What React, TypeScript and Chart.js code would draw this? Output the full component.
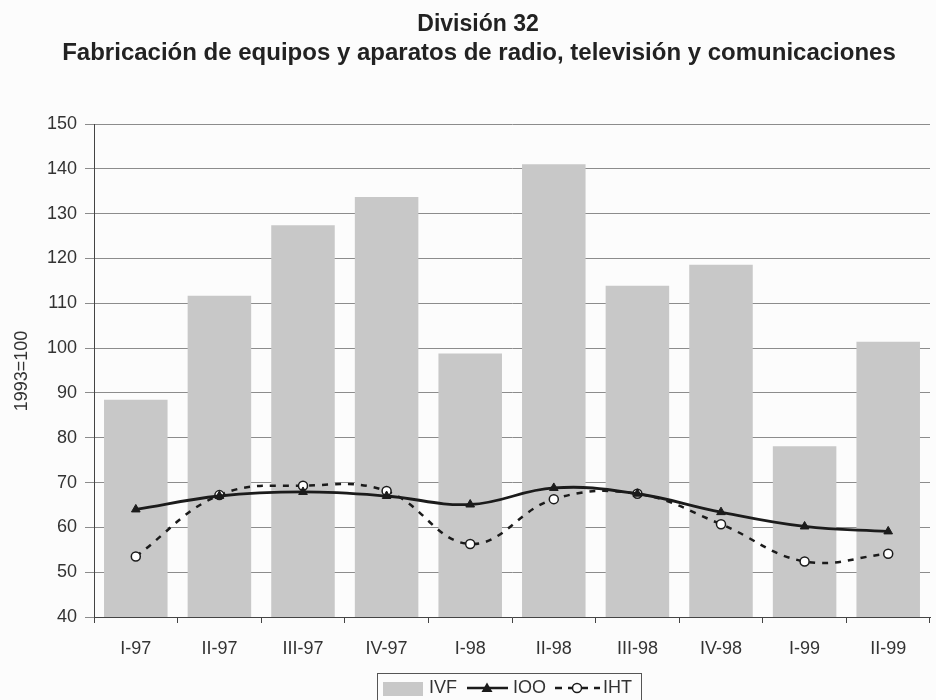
import React, { useEffect, useRef } from 'react';
import { Chart, registerables } from 'chart.js';

Chart.register(...registerables);

const categories = ['I-97', 'II-97', 'III-97', 'IV-97', 'I-98', 'II-98', 'III-98', 'IV-98', 'I-99', 'II-99'];
const ivfValues = [88.5, 111.7, 127.4, 133.7, 98.8, 141.0, 113.9, 118.6, 78.1, 101.4];
const iooValues = [64.0, 67.0, 67.9, 67.0, 65.1, 68.8, 67.5, 63.4, 60.2, 59.1];
const ihtValues = [53.5, 67.2, 69.3, 68.1, 56.3, 66.3, 67.5, 60.7, 52.4, 54.1];
const seriesLabels = ['IVF', 'IOO', 'IHT'];
const yMin = 40;
const yMax = 150;
const yStep = 10;
const titleLines = ['División 32', 'Fabricación de equipos y aparatos de radio, televisión y comunicaciones'];
const yAxisTitle = '1993=100';

const FONT = '"Liberation Sans", Arial, Helvetica, sans-serif';
const BAR_COLOR = '#c8c8c8';
const INK = '#1b1b1b';

const decorPlugin = {
  id: 'decor',
  beforeDraw(chart: any) {
    const { ctx, width, height } = chart;
    ctx.save();
    ctx.fillStyle = '#fcfcfc';
    ctx.fillRect(0, 0, width, height);
    ctx.restore();
  },
  afterDraw(chart: any) {
    const { ctx } = chart;
    ctx.save();
    // Titles
    ctx.fillStyle = '#222';
    ctx.textAlign = 'center';
    ctx.textBaseline = 'middle';
    ctx.font = `bold 23px ${FONT}`;
    ctx.fillText(titleLines[0], 478, 25);
    ctx.font = `bold 24px ${FONT}`;
    ctx.fillText(titleLines[1], 479, 53);

    // Y axis title
    ctx.save();
    ctx.translate(22, 371);
    ctx.rotate(-Math.PI / 2);
    ctx.font = `18px ${FONT}`;
    ctx.fillStyle = '#333';
    ctx.fillText(yAxisTitle, 0, 0);
    ctx.restore();

    // Legend
    const ly = 688;
    ctx.strokeStyle = '#555';
    ctx.lineWidth = 1;
    ctx.strokeRect(377.5, 673.5, 264, 30);
    ctx.font = `18px ${FONT}`;
    ctx.textAlign = 'left';
    ctx.textBaseline = 'middle';
    // IVF swatch
    ctx.fillStyle = BAR_COLOR;
    ctx.fillRect(383, 682, 40, 14);
    ctx.fillStyle = '#333';
    ctx.fillText(seriesLabels[0], 429, ly);
    // IOO
    ctx.strokeStyle = INK;
    ctx.lineWidth = 2.5;
    ctx.beginPath();
    ctx.moveTo(467, ly);
    ctx.lineTo(508, ly);
    ctx.stroke();
    ctx.fillStyle = INK;
    ctx.beginPath();
    ctx.moveTo(487, ly - 5.5);
    ctx.lineTo(492.5, ly + 4);
    ctx.lineTo(481.5, ly + 4);
    ctx.closePath();
    ctx.fill();
    ctx.fillStyle = '#333';
    ctx.fillText(seriesLabels[1], 513, ly);
    // IHT
    ctx.strokeStyle = INK;
    ctx.lineWidth = 2.5;
    ctx.setLineDash([7, 6]);
    ctx.beginPath();
    ctx.moveTo(555, ly);
    ctx.lineTo(600, ly);
    ctx.stroke();
    ctx.setLineDash([]);
    ctx.fillStyle = '#fff';
    ctx.lineWidth = 1.5;
    ctx.beginPath();
    ctx.arc(577, ly, 4.5, 0, Math.PI * 2);
    ctx.fill();
    ctx.stroke();
    ctx.fillStyle = '#333';
    ctx.fillText(seriesLabels[2], 603, ly);
    ctx.restore();
  },
};

export default function App() {
  const canvasRef = useRef<HTMLCanvasElement | null>(null);

  useEffect(() => {
    if (!canvasRef.current) return;
    const chart = new Chart(canvasRef.current, {
      type: 'bar',
      data: {
        labels: categories,
        datasets: [
          {
            type: 'line',
            label: seriesLabels[1],
            data: iooValues,
            borderColor: INK,
            backgroundColor: INK,
            borderWidth: 2.8,
            pointStyle: 'triangle',
            pointRadius: 5,
            pointBackgroundColor: INK,
            pointBorderColor: INK,
            pointBorderWidth: 1,
            tension: 0.4,
            fill: false,
            order: 1,
          },
          {
            type: 'line',
            label: seriesLabels[2],
            data: ihtValues,
            borderColor: INK,
            backgroundColor: '#fff',
            borderWidth: 2.5,
            borderDash: [6, 7],
            pointStyle: 'circle',
            pointRadius: 4.5,
            pointBackgroundColor: '#fff',
            pointBorderColor: INK,
            pointBorderWidth: 1.5,
            tension: 0.4,
            fill: false,
            order: 2,
          },
          {
            type: 'bar',
            label: seriesLabels[0],
            data: ivfValues,
            backgroundColor: BAR_COLOR,
            borderWidth: 0,
            barPercentage: 0.76,
            categoryPercentage: 1,
            order: 3,
          },
        ],
      },
      options: {
        responsive: false,
        animation: false,
        layout: { padding: { top: 124, right: 5, left: 0, bottom: 0 } },
        plugins: {
          legend: { display: false },
          title: { display: false },
          tooltip: { enabled: false },
        },
        scales: {
          x: {
            offset: true,
            grid: {
              display: true,
              drawOnChartArea: false,
              offset: true,
              tickLength: 6,
              color: '#444',
            },
            border: { display: true, color: '#444', width: 1 },
            ticks: {
              color: '#333',
              font: { family: FONT, size: 18 },
              padding: 15,
              maxRotation: 0,
              autoSkip: false,
            },
            afterFit(scale: any) {
              scale.height = 83;
            },
          },
          y: {
            min: yMin,
            max: yMax,
            grid: {
              color: '#8c8c8c',
              lineWidth: 1,
              tickLength: 9,
            },
            border: { display: true, color: '#444', width: 1 },
            ticks: {
              stepSize: yStep,
              color: '#333',
              font: { family: FONT, size: 18 },
              padding: 8,
            },
            afterFit(scale: any) {
              scale.width = 94;
            },
          },
        },
      },
      plugins: [decorPlugin],
    } as any);
    return () => chart.destroy();
  }, []);

  return (
    <div style={{ position: 'absolute', left: 0, top: 0, width: 936, height: 700 }}>
      <canvas ref={canvasRef} width={936} height={700} style={{ display: 'block', width: 936, height: 700 }} />
    </div>
  );
}
